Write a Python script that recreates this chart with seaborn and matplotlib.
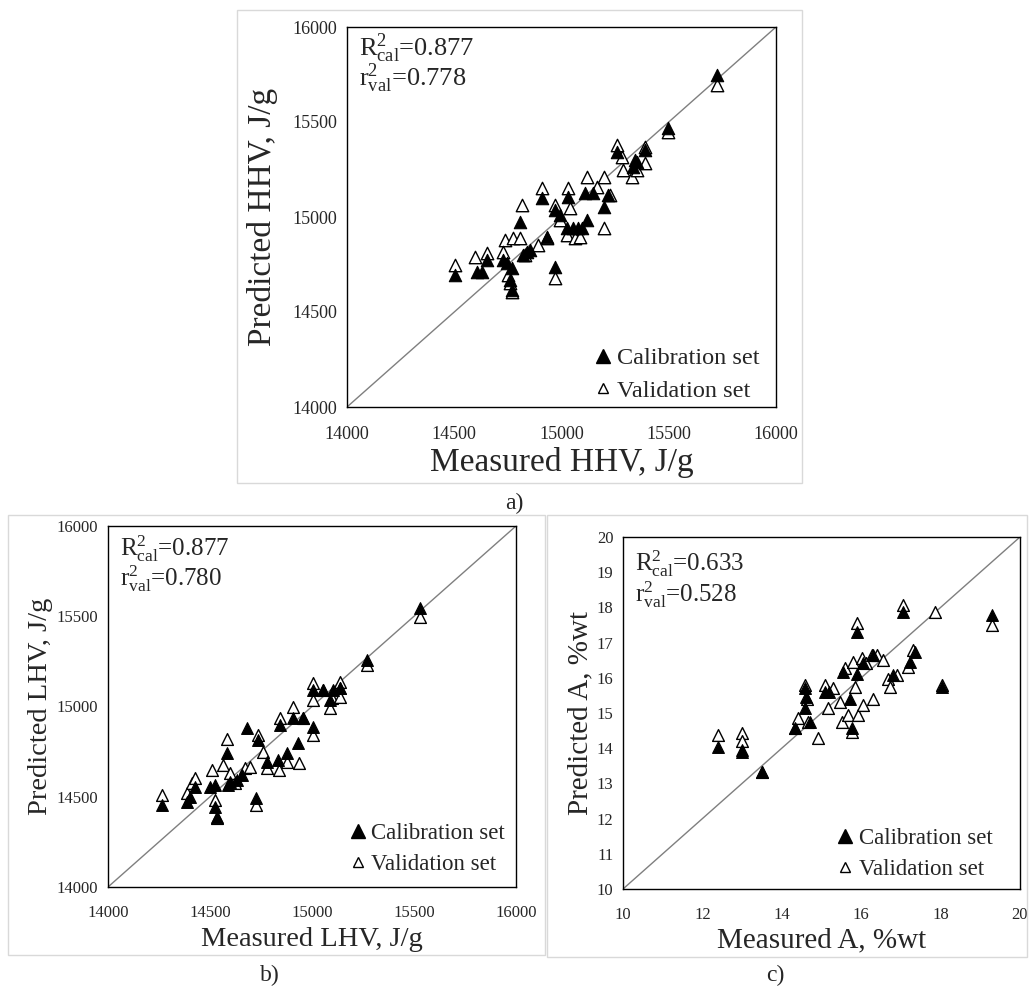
import matplotlib
matplotlib.use('Agg')
import matplotlib.pyplot as plt
import matplotlib.patches as mpatches
import seaborn as sns
import pandas as pd

# a) HHV
hhv_cal_x = [14503, 14605, 14628, 14651, 14729, 14745, 14768, 14760, 14768, 14807,
             14908, 14970, 14838, 14822, 14853, 14931, 14970, 14993, 15024, 15032,
             15055, 15079, 15094, 15117, 15110, 15149, 15196, 15218, 15257, 15350,
             15335, 15389, 15498, 15723, 15343]
hhv_cal_y = [14695, 14712, 14712, 14774, 14774, 14760, 14730, 14668, 14616, 14975,
             15098, 14738, 14817, 14800, 14826, 14896, 15037, 15010, 14940, 15107,
             14940, 14940, 14940, 14984, 15125, 15125, 15054, 15116, 15344, 15291,
             15265, 15353, 15467, 15747, 15300]
hhv_val_x = [14503, 14597, 14651, 14737, 14775, 14807, 14729, 14752, 14760, 14768,
             14814, 14908, 14970, 14830, 14892, 14931, 14970, 14993, 15040, 15032,
             15024, 15063, 15086, 15117, 15164, 15196, 15196, 15226, 15257, 15281,
             15289, 15327, 15350, 15389, 15389, 15498, 15723]
hhv_val_y = [14747, 14791, 14809, 14879, 14888, 14888, 14817, 14695, 14651, 14607,
             15063, 15151, 14677, 14800, 14853, 14888, 15063, 14984, 15046, 15151,
             14905, 14888, 14896, 15212, 15160, 15212, 14940, 15116, 15379, 15318,
             15247, 15212, 15247, 15370, 15283, 15449, 15695]

# b) LHV
lhv_cal_x = [14263, 14386, 14402, 14426, 14500, 14525, 14533, 14525, 14582, 14590,
             14598, 14631, 14655, 14680, 14725, 14737, 14778, 14835, 14843, 14876,
             14908, 14933, 14957, 15003, 15006, 15055, 15104, 15137, 15088, 15529,
             15268, 15137]
lhv_cal_y = [14454, 14473, 14500, 14556, 14556, 14565, 14389, 14445, 14740, 14565,
             14583, 14593, 14620, 14879, 14491, 14814, 14694, 14704, 14898, 14740,
             14935, 14796, 14935, 14888, 15091, 15091, 15091, 15101, 15036, 15544,
             15258, 15101]
lhv_val_x = [14263, 14386, 14410, 14426, 14508, 14525, 14533, 14562, 14582, 14598,
             14623, 14672, 14696, 14725, 14737, 14761, 14778, 14840, 14843, 14876,
             14905, 14938, 14957, 15003, 15006, 15006, 15055, 15088, 15096, 15137,
             15137, 15529, 15268]
lhv_val_y = [14510, 14519, 14574, 14602, 14648, 14482, 14380, 14676, 14818, 14630,
             14574, 14657, 14666, 14454, 14842, 14750, 14657, 14648, 14935, 14694,
             14999, 14688, 14935, 14842, 15036, 15128, 15091, 14990, 15045, 15137,
             15054, 15497, 15230]

# c) ash
a_cal_x = [12.40, 12.99, 13.00, 13.49, 14.58, 14.58, 14.62, 15.09, 15.20, 15.72,
           15.89, 17.06, 19.29, 18.03, 17.23, 17.36, 15.76, 15.55, 15.90, 16.05,
           16.30, 16.81, 14.33, 14.71]
a_cal_y = [14.04, 13.95, 13.90, 13.33, 15.70, 15.13, 15.45, 15.60, 15.60, 15.41,
           17.31, 17.88, 17.78, 15.75, 16.45, 16.74, 14.56, 16.17, 16.10, 16.41,
           16.65, 16.08, 14.56, 14.75]
a_val_x = [12.40, 12.99, 12.99, 13.49, 14.33, 14.42, 14.58, 14.63, 14.67, 14.92,
           15.09, 15.17, 15.30, 15.47, 15.51, 15.59, 15.68, 15.76, 15.80, 15.84,
           15.89, 15.93, 16.01, 16.05, 16.13, 16.30, 16.26, 16.39, 16.56, 16.68,
           16.73, 16.89, 17.06, 17.19, 17.86, 19.29, 18.03, 17.30]
a_val_y = [14.38, 14.42, 14.20, 13.33, 14.56, 14.85, 15.79, 15.41, 14.75, 14.28,
           15.80, 15.13, 15.70, 15.32, 14.75, 16.27, 14.94, 14.47, 16.45, 15.75,
           17.55, 14.94, 16.55, 15.23, 16.41, 15.41, 16.65, 16.65, 16.50, 15.98,
           15.75, 16.08, 18.07, 16.31, 17.88, 17.50, 15.80, 16.80]

sns.set_style('white')
plt.rcParams['font.family'] = ['Liberation Serif', 'DejaVu Serif']
plt.rcParams['mathtext.fontset'] = 'custom'
plt.rcParams['mathtext.rm'] = 'Liberation Serif'
plt.rcParams['mathtext.it'] = 'Liberation Serif'

W, H = 1029, 989
fig = plt.figure(figsize=(W / 100, H / 100), dpi=100)

# panel frames (light grey, like Excel chart area)
for (x0, y0, x1, y1) in [(237, 10, 802, 483), (8, 515, 545, 955), (547, 515, 1027, 957)]:
    fig.patches.append(mpatches.Rectangle((x0 / W, 1 - y1 / H), (x1 - x0) / W, (y1 - y0) / H,
                                          transform=fig.transFigure, fill=False,
                                          edgecolor='#d9d9d9', linewidth=1))


def px_axes(x0, y0, x1, y1):
    return fig.add_axes([x0 / W, 1 - y1 / H, (x1 - x0) / W, (y1 - y0) / H])


ax1 = px_axes(347, 27, 776, 407)
ax2 = px_axes(108, 526, 516, 887)
ax3 = px_axes(623, 537, 1020, 889)


def draw(ax, cx, cy, vx, vy, lim, step, ystep, xlab, ylab, r2c, r2v, fs, ms,
         xlab_off, ylab_off, tick_pad, r_y, leg_anchor):
    wpx = ax.get_position().width * W
    hpx = ax.get_position().height * H
    ax.plot(lim, lim, color='#7f7f7f', linewidth=1, zorder=1)
    cal = pd.DataFrame({'x': cx, 'y': cy})
    val = pd.DataFrame({'x': vx, 'y': vy})
    sns.scatterplot(data=val, x='x', y='y', marker='^', s=ms, color='white',
                    edgecolor='black', linewidth=1, ax=ax, zorder=2)
    sns.scatterplot(data=cal, x='x', y='y', marker='^', s=ms, color='black',
                    edgecolor='black', linewidth=0.8, ax=ax, zorder=3)
    ax.set_xlim(lim)
    ax.set_ylim(lim)
    ax.set_xticks([lim[0] + i * step for i in range(int(round((lim[1] - lim[0]) / step)) + 1)])
    ax.set_yticks([lim[0] + i * ystep for i in range(int(round((lim[1] - lim[0]) / ystep)) + 1)])
    ax.tick_params(axis='x', labelsize=fs['tick'], length=0, pad=tick_pad)
    ax.tick_params(axis='y', labelsize=fs['tick'], length=0, pad=7)
    ax.set_xlabel(xlab, fontsize=fs['lab'])
    ax.set_ylabel(ylab, fontsize=fs['lab'])
    ax.xaxis.label.set_va('center')
    ax.yaxis.label.set_va('center')
    ax.xaxis.set_label_coords(0.5, -xlab_off / hpx)
    ax.yaxis.set_label_coords(-ylab_off / wpx, 0.5)
    for sp in ax.spines.values():
        sp.set_color('black')
        sp.set_linewidth(1)
    ax.text(12 / wpx, 1 - r_y[0] / hpx, r2c, transform=ax.transAxes, fontsize=fs['r2'],
            va='baseline', ha='left')
    ax.text(12 / wpx, 1 - r_y[1] / hpx, r2v, transform=ax.transAxes, fontsize=fs['r2'],
            va='baseline', ha='left')
    h1 = plt.Line2D([], [], marker='^', linestyle='none', markerfacecolor='black',
                    markeredgecolor='black', markersize=10)
    h2 = plt.Line2D([], [], marker='^', linestyle='none', markerfacecolor='white',
                    markeredgecolor='black', markersize=7)
    ax.legend([h1, h2], ['Calibration set', 'Validation set'], loc='lower right',
              bbox_to_anchor=(1 - leg_anchor[0] / wpx, leg_anchor[1] / hpx),
              frameon=False, fontsize=fs['leg'], handlelength=0.6, handletextpad=0.3,
              labelspacing=0.45, borderaxespad=0, borderpad=0)


draw(ax1, hhv_cal_x, hhv_cal_y, hhv_val_x, hhv_val_y, (14000, 16000), 500, 500,
     'Measured HHV, J/g', 'Predicted HHV, J/g',
     r'R$^{2}_{\rm cal}$=0.877', r'r$^{2}_{\rm val}$=0.778',
     {'lab': 24, 'tick': 13, 'r2': 19, 'leg': 17.5}, 80,
     56, 85, 14, (29, 59), (16, 5))
draw(ax2, lhv_cal_x, lhv_cal_y, lhv_val_x, lhv_val_y, (14000, 16000), 500, 500,
     'Measured LHV, J/g', 'Predicted LHV, J/g',
     r'R$^{2}_{\rm cal}$=0.877', r'r$^{2}_{\rm val}$=0.780',
     {'lab': 20.5, 'tick': 12, 'r2': 18, 'leg': 16.5}, 72,
     53, 68, 13, (30, 60), (11, 12))
draw(ax3, a_cal_x, a_cal_y, a_val_x, a_val_y, (10, 20), 2, 1,
     'Measured A, %wt', 'Predicted A, %wt',
     r'R$^{2}_{\rm cal}$=0.633', r'r$^{2}_{\rm val}$=0.528',
     {'lab': 21, 'tick': 12, 'r2': 18, 'leg': 16.5}, 72,
     51, 43, 13, (34, 65), (27, 9))

fig.text(514 / W, 1 - 503 / H, 'a)', fontsize=17, ha='center', va='center')
fig.text(270 / W, 1 - 975 / H, 'b)', fontsize=17, ha='center', va='center')
fig.text(775 / W, 1 - 975 / H, 'c)', fontsize=17, ha='center', va='center')

fig.savefig('out.png', dpi=100)
